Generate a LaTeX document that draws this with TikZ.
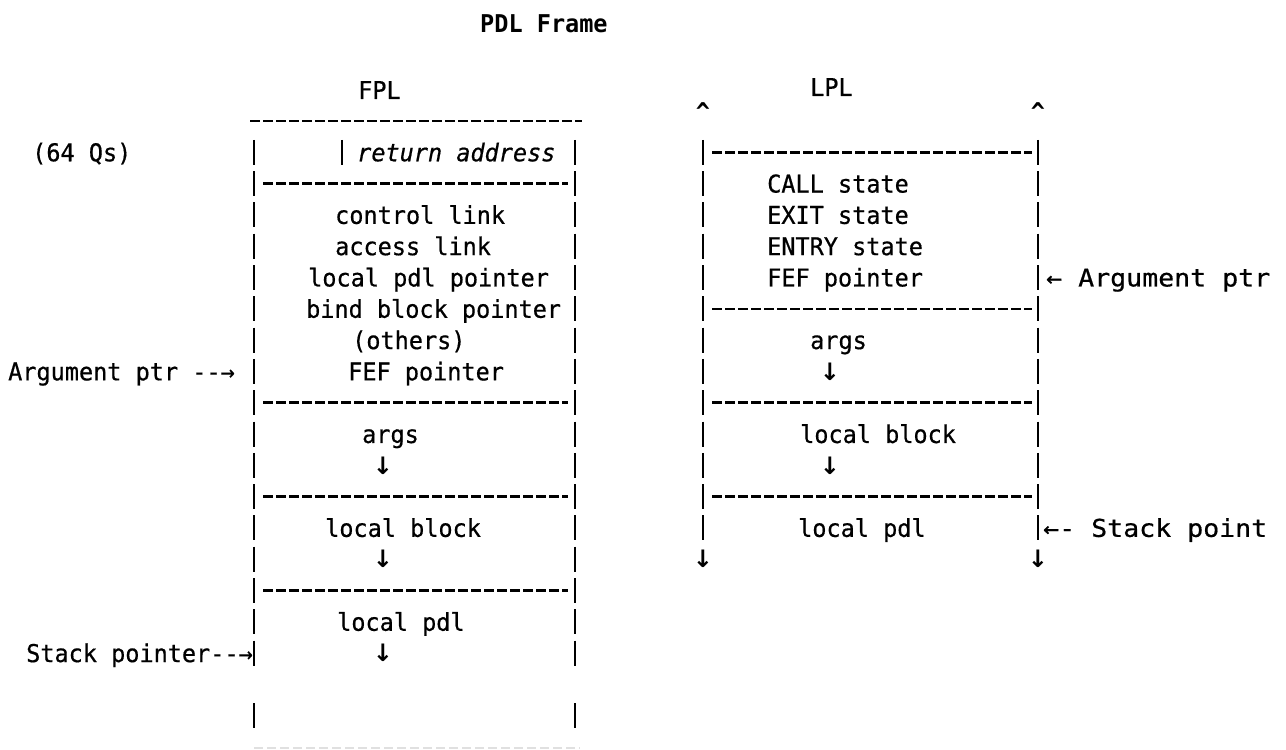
\documentclass[tikz,border=0pt]{standalone}
\usepackage{fontspec}
\setmainfont[FakeStretch=0.96,FakeBold=0.6]{DejaVu Sans Mono}
\newfontfamily\widefont[FakeStretch=1.085,FakeBold=0.6]{DejaVu Sans Mono}
\newfontfamily\arrowfont{DejaVu Sans}
\newfontfamily\titlefont[FakeStretch=0.96]{DejaVu Sans Mono Bold}
\begin{document}
\begin{tikzpicture}[x=1pt,y=-1pt,
  bar/.style={line width=2.8pt},
  sepline/.style={line width=2.6pt, dash pattern=on 9.5pt off 3.5pt},
  faint/.style={line width=2pt, black!12, dash pattern=on 9pt off 4pt},
  txt/.style={inner sep=0pt, anchor=west, text height=17.9pt, text depth=0pt, font=\fontsize{24.5}{28}\selectfont},
  wtxt/.style={txt, font=\widefont\fontsize{24.5}{28}\selectfont},
  dn/.style={inner sep=0pt, anchor=center, font=\arrowfont\bfseries\fontsize{24}{28}\selectfont},
  caret/.style={inner sep=0pt, anchor=center, font=\titlefont\fontsize{24.5}{28}\selectfont}]
\useasboundingbox[fill=white] (0,0) rectangle (1286,750);
% titles
\node[txt, font=\titlefont\fontsize{24.5}{28}\selectfont] (title) at (480,24) {PDL Frame};
\node[txt] (fpl) at (358,90) {FPL};
\node[txt] (lpl) at (810,87) {LPL};
% ---------------- FPL column ----------------
\draw[sepline] (250,121) -- (582,121);
\foreach \k in {1,...,17,19} {
  \draw[bar] (254,{121+31.3*\k-12.5}) -- (254,{121+31.3*\k+12.5});
  \draw[bar] (575,{121+31.3*\k-12.5}) -- (575,{121+31.3*\k+12.5});
}
\draw[bar] (342,{152.3-12.5}) -- (342,{152.3+12.5});
\foreach \k in {2,9,12,15} {
  \draw[sepline] (263,{121+31.3*\k}) -- (568,{121+31.3*\k});
}
\draw[faint] (254,748) -- (580,748);
\node[txt] (qs) at (32,152.3) {(64 Qs)};
\node[txt, font=\fontsize{24.5}{28}\selectfont\itshape] (ret) at (357,152.3) {return address};
\node[txt] (cl) at (335,214.9) {control link};
\node[txt] (al) at (335,246.2) {access link};
\node[txt] (lpp) at (308,277.5) {local pdl pointer};
\node[txt] (bbp) at (306,308.8) {bind block pointer};
\node[txt] (oth) at (352,340.1) {(others)};
\node[txt] (fef) at (348,371.4) {FEF pointer};
\node[txt] (ap) at (8,371.4) {Argument ptr -{}-→};
\node[txt] (fargs) at (362,434) {args};
\node[dn] (fa1) at (383,465.3) {↓};
\node[txt] (flb) at (325,527.9) {local block};
\node[dn] (fa2) at (383,559.2) {↓};
\node[txt] (flp) at (337,621.8) {local pdl};
\node[dn] (fa3) at (383,653.1) {↓};
\node[txt] (sp) at (26,653.1) {Stack pointer-{}-→};
% ---------------- LPL column ----------------
\node[caret] (c1) at (703,112) {\textasciicircum};
\node[caret] (c2) at (1038,112) {\textasciicircum};
\foreach \k in {1,...,13} {
  \draw[bar] (703,{121+31.3*\k-12.5}) -- (703,{121+31.3*\k+12.5});
  \draw[bar] (1038,{121+31.3*\k-12.5}) -- (1038,{121+31.3*\k+12.5});
}
\foreach \k in {1,6,9,12} {
  \draw[sepline] (712,{121+31.3*\k}) -- (1032,{121+31.3*\k});
}
\node[txt] (call) at (767,183.6) {CALL state};
\node[txt] (exit) at (767,214.9) {EXIT state};
\node[txt] (entry) at (767,246.2) {ENTRY state};
\node[txt] (lfef) at (767,277.5) {FEF pointer};
\node[wtxt] (lap) at (1046,277.5) {← Argument ptr};
\node[txt] (largs) at (810,340.1) {args};
\node[dn] (la1) at (830,371.4) {↓};
\node[txt] (llb) at (800,434) {local block};
\node[dn] (la2) at (830,465.3) {↓};
\node[txt] (llp) at (798,527.9) {local pdl};
\node[wtxt] (lsp) at (1043,527.9) {←- Stack point};
\node[dn] (d1) at (703,559.2) {↓};
\node[dn] (d2) at (1038,559.2) {↓};
\end{tikzpicture}
\end{document}
